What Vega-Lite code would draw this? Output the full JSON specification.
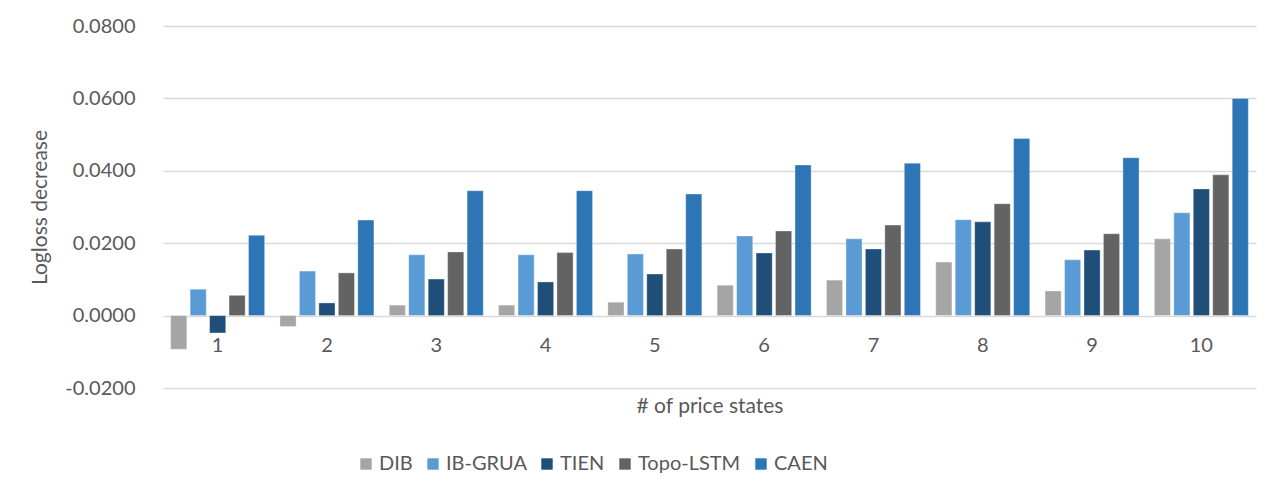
{
  "$schema": "https://vega.github.io/schema/vega-lite/v6.json",
  "width": 1093,
  "height": 362,
  "autosize": {"type": "none"},
  "padding": {"left": 163, "top": 26, "right": 23, "bottom": 114},
  "background": "white",
  "config": {
    "font": "Lato",
    "view": {"stroke": null},
    "axis": {"labelColor": "#595959", "titleColor": "#595959", "titleFontWeight": "normal"}
  },
  "data": {
    "values": [
      {"g": "1", "model": "DIB", "v": -0.0093},
      {"g": "1", "model": "IB-GRUA", "v": 0.0073},
      {"g": "1", "model": "TIEN", "v": -0.0048},
      {"g": "1", "model": "Topo-LSTM", "v": 0.0056},
      {"g": "1", "model": "CAEN", "v": 0.0222},
      {"g": "2", "model": "DIB", "v": -0.0030},
      {"g": "2", "model": "IB-GRUA", "v": 0.0123},
      {"g": "2", "model": "TIEN", "v": 0.0035},
      {"g": "2", "model": "Topo-LSTM", "v": 0.0118},
      {"g": "2", "model": "CAEN", "v": 0.0264},
      {"g": "3", "model": "DIB", "v": 0.0029},
      {"g": "3", "model": "IB-GRUA", "v": 0.0168},
      {"g": "3", "model": "TIEN", "v": 0.0101},
      {"g": "3", "model": "Topo-LSTM", "v": 0.0176},
      {"g": "3", "model": "CAEN", "v": 0.0345},
      {"g": "4", "model": "DIB", "v": 0.0029},
      {"g": "4", "model": "IB-GRUA", "v": 0.0168},
      {"g": "4", "model": "TIEN", "v": 0.0093},
      {"g": "4", "model": "Topo-LSTM", "v": 0.0174},
      {"g": "4", "model": "CAEN", "v": 0.0345},
      {"g": "5", "model": "DIB", "v": 0.0037},
      {"g": "5", "model": "IB-GRUA", "v": 0.0170},
      {"g": "5", "model": "TIEN", "v": 0.0115},
      {"g": "5", "model": "Topo-LSTM", "v": 0.0184},
      {"g": "5", "model": "CAEN", "v": 0.0336},
      {"g": "6", "model": "DIB", "v": 0.0084},
      {"g": "6", "model": "IB-GRUA", "v": 0.0220},
      {"g": "6", "model": "TIEN", "v": 0.0173},
      {"g": "6", "model": "Topo-LSTM", "v": 0.0234},
      {"g": "6", "model": "CAEN", "v": 0.0416},
      {"g": "7", "model": "DIB", "v": 0.0098},
      {"g": "7", "model": "IB-GRUA", "v": 0.0212},
      {"g": "7", "model": "TIEN", "v": 0.0184},
      {"g": "7", "model": "Topo-LSTM", "v": 0.0250},
      {"g": "7", "model": "CAEN", "v": 0.0421},
      {"g": "8", "model": "DIB", "v": 0.0148},
      {"g": "8", "model": "IB-GRUA", "v": 0.0265},
      {"g": "8", "model": "TIEN", "v": 0.0259},
      {"g": "8", "model": "Topo-LSTM", "v": 0.0309},
      {"g": "8", "model": "CAEN", "v": 0.0489},
      {"g": "9", "model": "DIB", "v": 0.0068},
      {"g": "9", "model": "IB-GRUA", "v": 0.0154},
      {"g": "9", "model": "TIEN", "v": 0.0181},
      {"g": "9", "model": "Topo-LSTM", "v": 0.0226},
      {"g": "9", "model": "CAEN", "v": 0.0436},
      {"g": "10", "model": "DIB", "v": 0.0212},
      {"g": "10", "model": "IB-GRUA", "v": 0.0284},
      {"g": "10", "model": "TIEN", "v": 0.0350},
      {"g": "10", "model": "Topo-LSTM", "v": 0.0389},
      {"g": "10", "model": "CAEN", "v": 0.0600}
    ]
  },
  "mark": {"type": "bar", "stroke": "#ffffff", "strokeOpacity": 0.35, "strokeWidth": 1},
  "encoding": {
    "x": {
      "field": "g",
      "type": "ordinal",
      "sort": null,
      "scale": {"paddingInner": 0.14, "paddingOuter": 0.07},
      "axis": {
        "title": "# of price states",
        "orient": "bottom",
        "offset": -72.5,
        "domain": false,
        "ticks": false,
        "labelAngle": 0,
        "labelFontSize": 20,
        "labelPadding": 20,
        "titleFontSize": 21,
        "titlePadding": 40
      }
    },
    "xOffset": {
      "field": "model",
      "type": "nominal",
      "sort": ["DIB", "IB-GRUA", "TIEN", "Topo-LSTM", "CAEN"],
      "scale": {"paddingInner": 0.17, "paddingOuter": 0}
    },
    "y": {
      "field": "v",
      "type": "quantitative",
      "scale": {"domain": [-0.02, 0.08], "nice": false},
      "axis": {
        "title": "Logloss decrease",
        "values": [-0.02, 0, 0.02, 0.04, 0.06, 0.08],
        "format": ".4f",
        "labelExpr": "replace(datum.label, '\u2212', '-')",
        "domain": false,
        "ticks": false,
        "gridColor": "#d9d9d9",
        "gridWidth": 1.3,
        "labelFontSize": 20,
        "labelPadding": 28,
        "titleFontSize": 21,
        "titlePadding": 14
      }
    },
    "color": {
      "field": "model",
      "type": "nominal",
      "sort": ["DIB", "IB-GRUA", "TIEN", "Topo-LSTM", "CAEN"],
      "scale": {
        "domain": ["DIB", "IB-GRUA", "TIEN", "Topo-LSTM", "CAEN"],
        "range": ["#a5a5a5", "#5b9bd5", "#1f4e79", "#636363", "#2e75b6"]
      },
      "legend": {
        "title": null,
        "orient": "none",
        "direction": "horizontal",
        "legendX": 193,
        "legendY": 428,
        "symbolType": "square",
        "symbolSize": 130,
        "symbolStrokeWidth": 0,
        "labelFontSize": 20,
        "labelColor": "#595959",
        "labelOffset": 3,
        "columnSpacing": 12
      }
    }
  }
}
